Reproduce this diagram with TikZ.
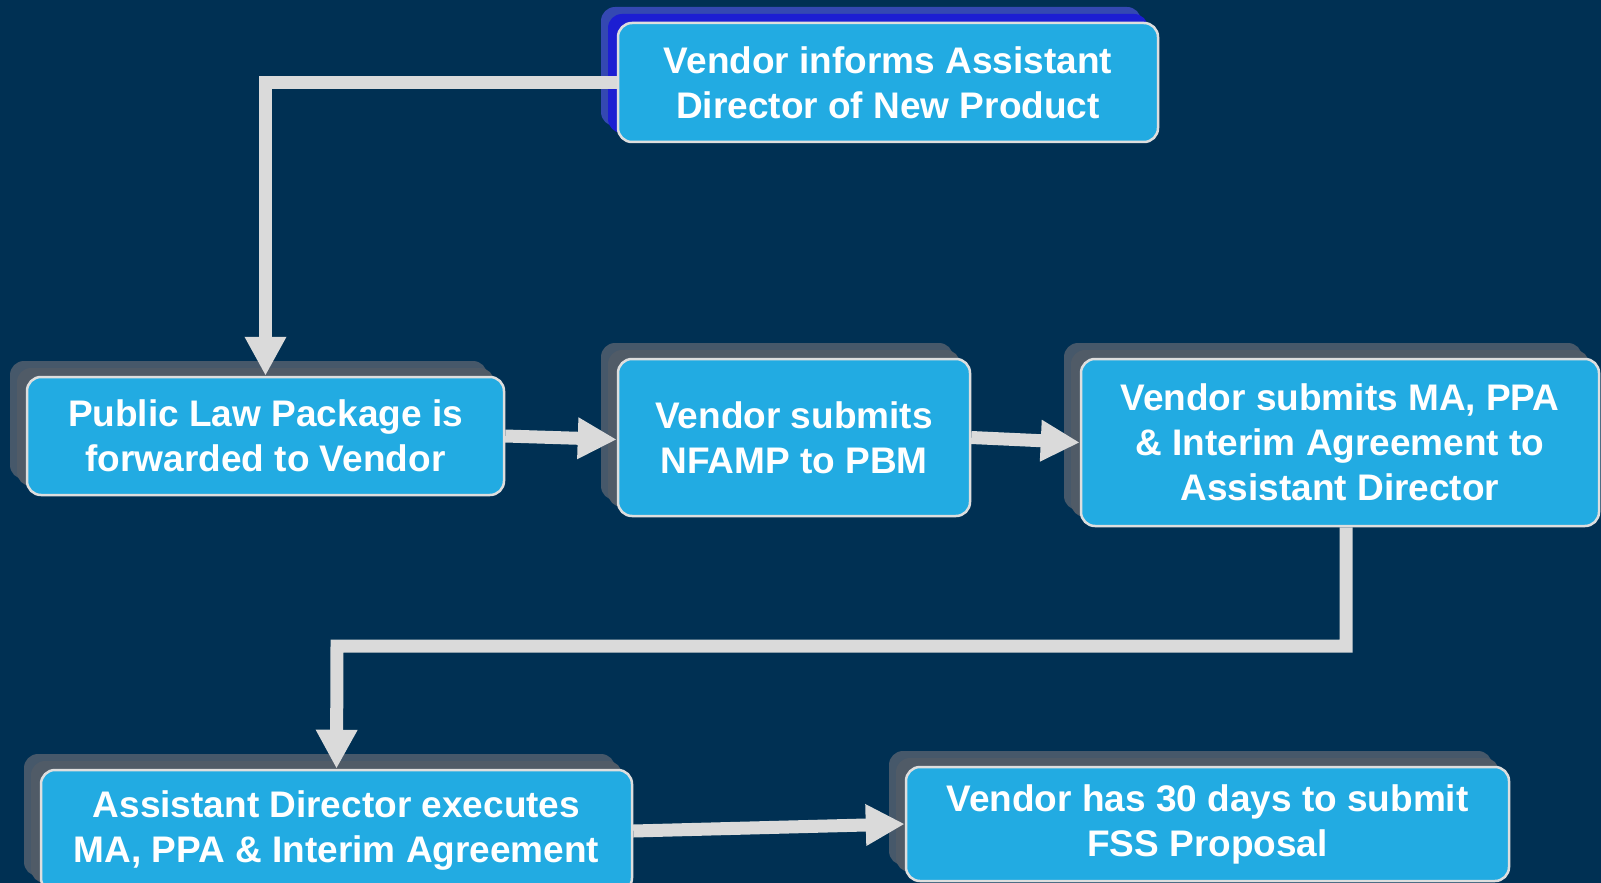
\documentclass[tikz,border=0pt]{standalone}
\usepackage{fontspec}
\setmainfont{Liberation Sans}
\usetikzlibrary{arrows.meta}
\definecolor{bgcol}{RGB}{0,48,83}
\definecolor{boxfill}{RGB}{34,171,226}
\definecolor{boxline}{RGB}{222,222,222}
\definecolor{linecol}{RGB}{218,218,218}
\definecolor{shGback}{RGB}{70,88,106}
\definecolor{shGmid}{RGB}{80,91,103}
\definecolor{shAback}{RGB}{52,72,178}
\definecolor{shAmid}{RGB}{28,30,210}
\tikzset{
  stepbox/.style={draw=boxline, line width=1.25pt, fill=boxfill, rounded corners=7pt,
    inner sep=0pt, align=center, text=white,
    font=\bfseries\fontsize{18.5}{22.5}\selectfont},
  conn/.style={draw=linecol, line width=6.5pt, line join=miter,
    -{Triangle[length=19.5pt,width=19.5pt]}}
}
\newcommand\flowbox[7]{%
  \fill[sh#6back, rounded corners=7pt] ({#2-#4/2-17},{#3-#5/2-16}) rectangle ++(#4,#5);
  \fill[sh#6mid, rounded corners=7pt] ({#2-#4/2-10},{#3-#5/2-9}) rectangle ++(#4,#5);
  \node[stepbox, minimum width=#4*0.5pt, minimum height=#5*0.5pt] (#1) at (#2,#3) {#7};
}
\begin{document}
\begin{tikzpicture}[x=0.5pt,y=-0.5pt]
\useasboundingbox (0,0) rectangle (1601,883);
\clip (0,0) rectangle (1601,883);
\fill[bgcol] (0,0) rectangle (1601,883);

\flowbox{A}{888}{82.5}{540}{119}{A}{Vendor informs Assistant\\Director of New Product}
\flowbox{PL}{265.5}{436}{477}{118}{G}{Public Law Package is\\forwarded to Vendor}
\flowbox{NF}{794}{437.5}{352}{157}{G}{Vendor submits\\NFAMP to PBM}
\flowbox{C}{1340}{442.5}{518}{167}{G}{Vendor submits MA, PPA\\\& Interim Agreement to\\Assistant Director}
\flowbox{D}{336.5}{831}{591}{122}{G}{Assistant Director executes\\MA, PPA \& Interim Agreement}
\flowbox{E}{1207.5}{824}{603}{114}{G}{Vendor has 30 days to submit\\FSS Proposal}

\coordinate (bend) at (337,646);
\draw[conn] (A.west) -| (PL.north);
\draw[conn] (PL.east) -- ([yshift=-1pt]NF.west);
\draw[conn] (NF.east) -- (C.west);
\draw[conn] ([xshift=3pt]C.south) |- (bend) -- (D.north);
\draw[conn] (D.east) -- (E.west);
\end{tikzpicture}
\end{document}
